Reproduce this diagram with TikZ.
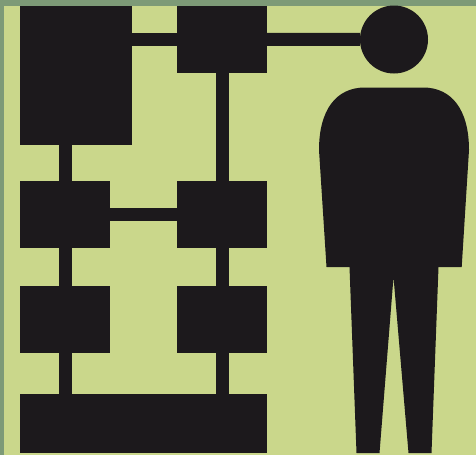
\documentclass[tikz,border=0pt]{standalone}
\definecolor{ink}{HTML}{1C191C}
\definecolor{leaf}{HTML}{CAD78B}
\definecolor{band}{HTML}{7D9A77}
\tikzset{
  blk/.style={fill=ink,draw=none,inner sep=0pt,outer sep=0pt,rectangle},
  link/.style={draw=ink,line width=13pt},
}
\begin{document}
\begin{tikzpicture}[x=1pt,y=-1pt]
\useasboundingbox (0,0) rectangle (476,455);
\fill[leaf] (0,0) rectangle (476,455);
\fill[band] (0,0) rectangle (476,5.5);
\fill[band] (0,0) rectangle (4,455);
% connectors first
\node[blk,minimum width=112pt,minimum height=139pt] (A) at (76,75.5) {};
\node[blk,minimum width=90pt,minimum height=66.5pt] (B) at (222,39.25) {};
\node[blk,circle,minimum size=68pt] (H) at (394,39.5) {};
\node[blk,minimum width=90pt,minimum height=67pt] (C) at (65,214.5) {};
\node[blk,minimum width=90pt,minimum height=67pt] (D) at (222,214.5) {};
\node[blk,minimum width=90pt,minimum height=67pt] (E) at (65,319.5) {};
\node[blk,minimum width=90pt,minimum height=67pt] (F) at (222,319.5) {};
\node[blk,minimum width=247pt,minimum height=59.5pt] (G) at (143.5,423.25) {};
\draw[link] (A.east |- B) -- (B);
\draw[link] (B) -- (H);
\draw[link] (B) -- (D);
\draw[link] (D) -- (F);
\draw[link] (F) -- (F |- G.north);
\draw[link] (C) -- (D);
\draw[link] (C) -- (C |- A.south);
\draw[link] (C) -- (E);
\draw[link] (E) -- (E |- G.north);
% figure
\fill[ink] (365,87.5) -- (423,87.5)
  .. controls (452,87.5) and (469,110) .. (469,150)
  -- (461.7,267) -- (438.5,267) -- (431.5,453) -- (408.5,453) -- (393.5,277)
  -- (379.5,453) -- (356.5,453) -- (349.5,267) -- (326.5,267) -- (319,150)
  .. controls (319,110) and (336,87.5) .. (365,87.5) -- cycle;
\end{tikzpicture}
\end{document}
